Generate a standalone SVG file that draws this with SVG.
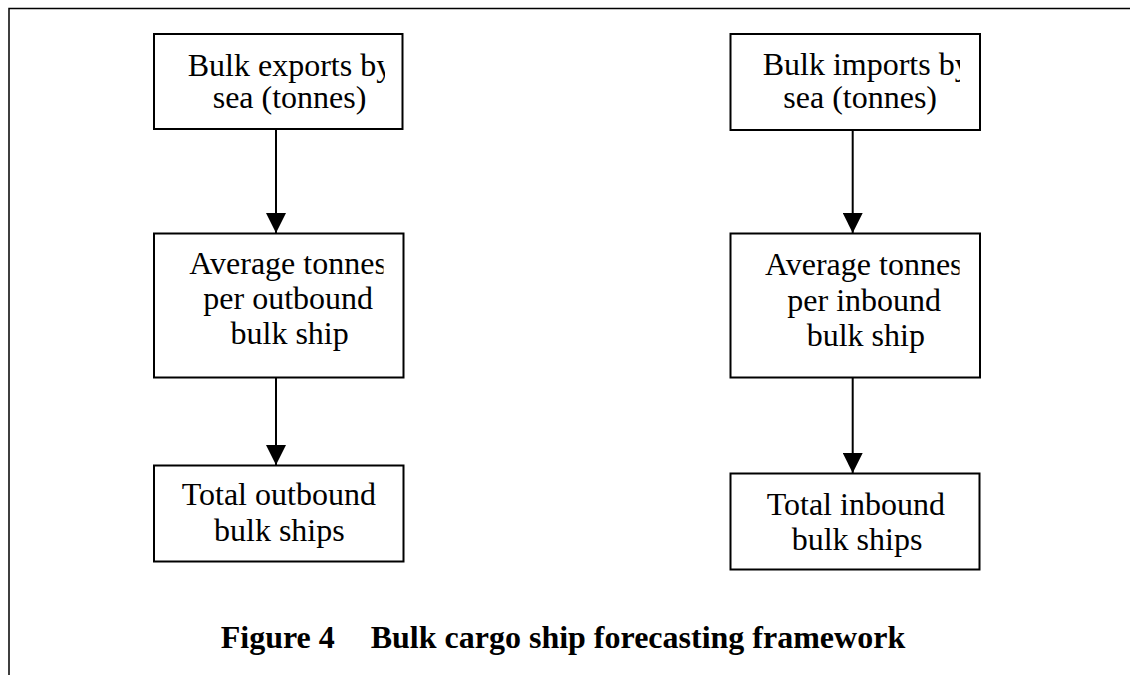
<svg xmlns="http://www.w3.org/2000/svg" width="1130" height="675" viewBox="0 0 1130 675">
<style>
.box{fill:#fff;stroke:#000;stroke-width:2}
.t{font-family:"Liberation Serif","Times New Roman",serif;font-size:32px;fill:#000}
.cap{font-family:"Liberation Serif","Times New Roman",serif;font-size:32px;font-weight:bold;fill:#000}
.edge{stroke:#000;stroke-width:2;fill:none}
.frame{stroke:#000;stroke-width:1.5;fill:none}
</style>
<defs>
<marker id="ah" markerWidth="20" markerHeight="20" viewBox="0 0 20 20" refX="20" refY="10" orient="auto" markerUnits="userSpaceOnUse">
<path d="M0,0 L20,10 L0,20 Z" fill="#000"/>
</marker>
<clipPath id="c1"><rect x="150" y="30" width="235" height="105"/></clipPath>
<clipPath id="c2"><rect x="150" y="230" width="233.5" height="150"/></clipPath>
<clipPath id="c4"><rect x="725" y="30" width="235" height="105"/></clipPath>
<clipPath id="c5"><rect x="725" y="230" width="234.5" height="150"/></clipPath>
</defs>
<g id="frame">
<path class="frame" d="M9,675 V8.5 H1130"/>
</g>
<g id="connectors">
<path class="edge" d="M276,129 V233" marker-end="url(#ah)"/>
<path class="edge" d="M276,378 V465" marker-end="url(#ah)"/>
<path class="edge" d="M852.7,130 V233" marker-end="url(#ah)"/>
<path class="edge" d="M852.7,378 V473" marker-end="url(#ah)"/>
</g>
<g id="n-exports">
<rect class="box" x="154" y="34" width="248.5" height="95"/>
<g clip-path="url(#c1)">
<text class="t" x="187.7" y="75.5">Bulk exports by</text>
<text class="t" x="212.7" y="108">sea (tonnes)</text>
</g>
</g>
<g id="n-avg-out">
<rect class="box" x="154" y="233.5" width="249.5" height="144"/>
<g clip-path="url(#c2)">
<text class="t" x="189.3" y="273.5">Average tonnes</text>
<text class="t" x="203.3" y="308.5">per outbound</text>
<text class="t" x="230.5" y="343.5">bulk ship</text>
</g>
</g>
<g id="n-total-out">
<rect class="box" x="154" y="465.5" width="249.5" height="96"/>
<text class="t" x="181.7" y="505">Total outbound</text>
<text class="t" x="214" y="540.5">bulk ships</text>
</g>
<g id="n-imports">
<rect class="box" x="730.5" y="34" width="249.5" height="96"/>
<g clip-path="url(#c4)">
<text class="t" x="762.7" y="75">Bulk imports by</text>
<text class="t" x="783.3" y="108">sea (tonnes)</text>
</g>
</g>
<g id="n-avg-in">
<rect class="box" x="730.5" y="233.5" width="249.5" height="144"/>
<g clip-path="url(#c5)">
<text class="t" x="765" y="275">Average tonnes</text>
<text class="t" x="787.3" y="310.5">per inbound</text>
<text class="t" x="806.7" y="346">bulk ship</text>
</g>
</g>
<g id="n-total-in">
<rect class="box" x="730.5" y="473.5" width="249" height="96"/>
<text class="t" x="766.7" y="514.5">Total inbound</text>
<text class="t" x="791.7" y="550">bulk ships</text>
</g>
<g id="caption">
<text class="cap" y="648"><tspan x="220.7">Figure 4</tspan><tspan x="370.7">Bulk cargo ship forecasting framework</tspan></text>
</g>
</svg>
